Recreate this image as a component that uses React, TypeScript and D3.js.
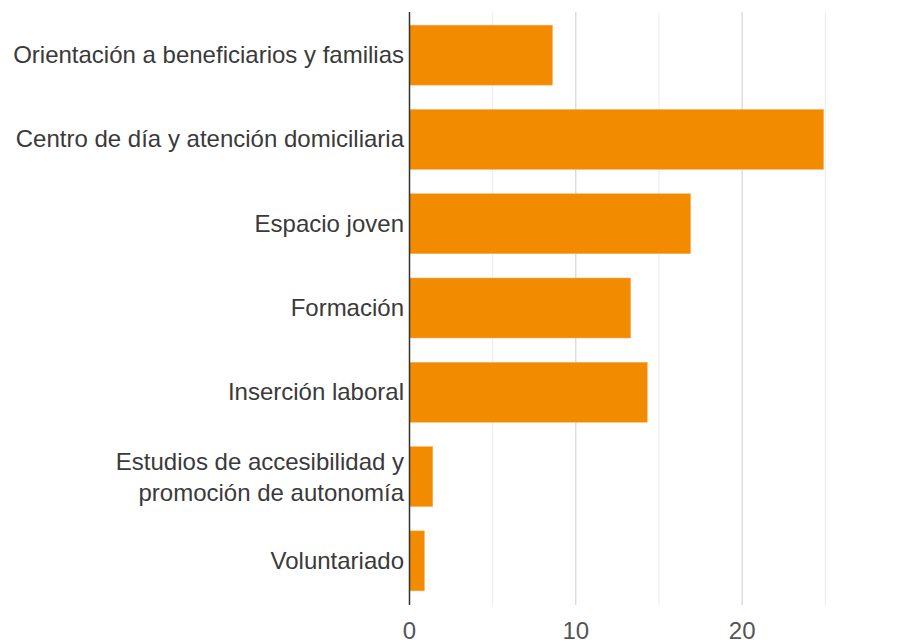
import React from "react";
import * as d3 from "d3";

const categories: string[][] = [
  ["Orientación a beneficiarios y familias"],
  ["Centro de día y atención domiciliaria"],
  ["Espacio joven"],
  ["Formación"],
  ["Inserción laboral"],
  ["Estudios de accesibilidad y", "promoción de autonomía"],
  ["Voluntariado"],
];
const values: number[] = [8.6, 24.9, 16.9, 13.3, 14.3, 1.4, 0.9];
const majorTicks: number[] = [0, 10, 20];
const minorTicks: number[] = [5, 15, 25];

const W = 898;
const H = 643;

export default function App() {
  const x = d3.scaleLinear().domain([0, 25]).range([409.5, 825.3]);
  const y = d3
    .scaleBand<number>()
    .domain(d3.range(categories.length))
    .range([13, 603])
    .paddingInner(0.288)
    .paddingOuter(0.144);
  const gridTop = 12;
  const gridBottom = 605;
  const font = "Arial, 'Liberation Sans', sans-serif";
  const fs = 24;
  return (
    <svg
      width={W}
      height={H}
      style={{ position: "absolute", left: 0, top: 0, background: "#fff" }}
    >
      {minorTicks.map((t) => (
        <line
          key={"m" + t}
          x1={x(t)}
          x2={x(t)}
          y1={gridTop}
          y2={gridBottom}
          stroke="#ebebeb"
          strokeWidth={1}
        />
      ))}
      {majorTicks
        .filter((t) => t !== 0)
        .map((t) => (
          <line
            key={"M" + t}
            x1={x(t)}
            x2={x(t)}
            y1={gridTop}
            y2={gridBottom}
            stroke="#cccccc"
            strokeWidth={1}
          />
        ))}
      {values.map((v, i) => (
        <rect
          key={i}
          x={x(0)}
          y={y(i)}
          width={x(v) - x(0)}
          height={y.bandwidth()}
          fill="#f28b00"
          stroke="#f6b36a"
          strokeWidth={0.5}
        />
      ))}
      <line
        x1={x(0)}
        x2={x(0)}
        y1={gridTop}
        y2={gridBottom}
        stroke="#333"
        strokeWidth={1.5}
      />
      {categories.map((lines, i) => {
        const cy = (y(i) as number) + y.bandwidth() / 2;
        const lh = 31;
        const start = cy - ((lines.length - 1) * lh) / 2 + (lines.length > 1 ? 1 : 0);
        return (
          <text
            key={i}
            textAnchor="end"
            fontFamily={font}
            fontSize={fs}
            fill="#3a3a3a"
          >
            {lines.map((l, j) => (
              <tspan key={j} x={404} y={start + j * lh} dy="0.33em">
                {l}
              </tspan>
            ))}
          </text>
        );
      })}
      {majorTicks.map((t) => (
        <text
          key={"t" + t}
          x={x(t)}
          y={631}
          dy="0.35em"
          textAnchor="middle"
          fontFamily={font}
          fontSize={fs}
          fill="#555"
        >
          {t}
        </text>
      ))}
    </svg>
  );
}
